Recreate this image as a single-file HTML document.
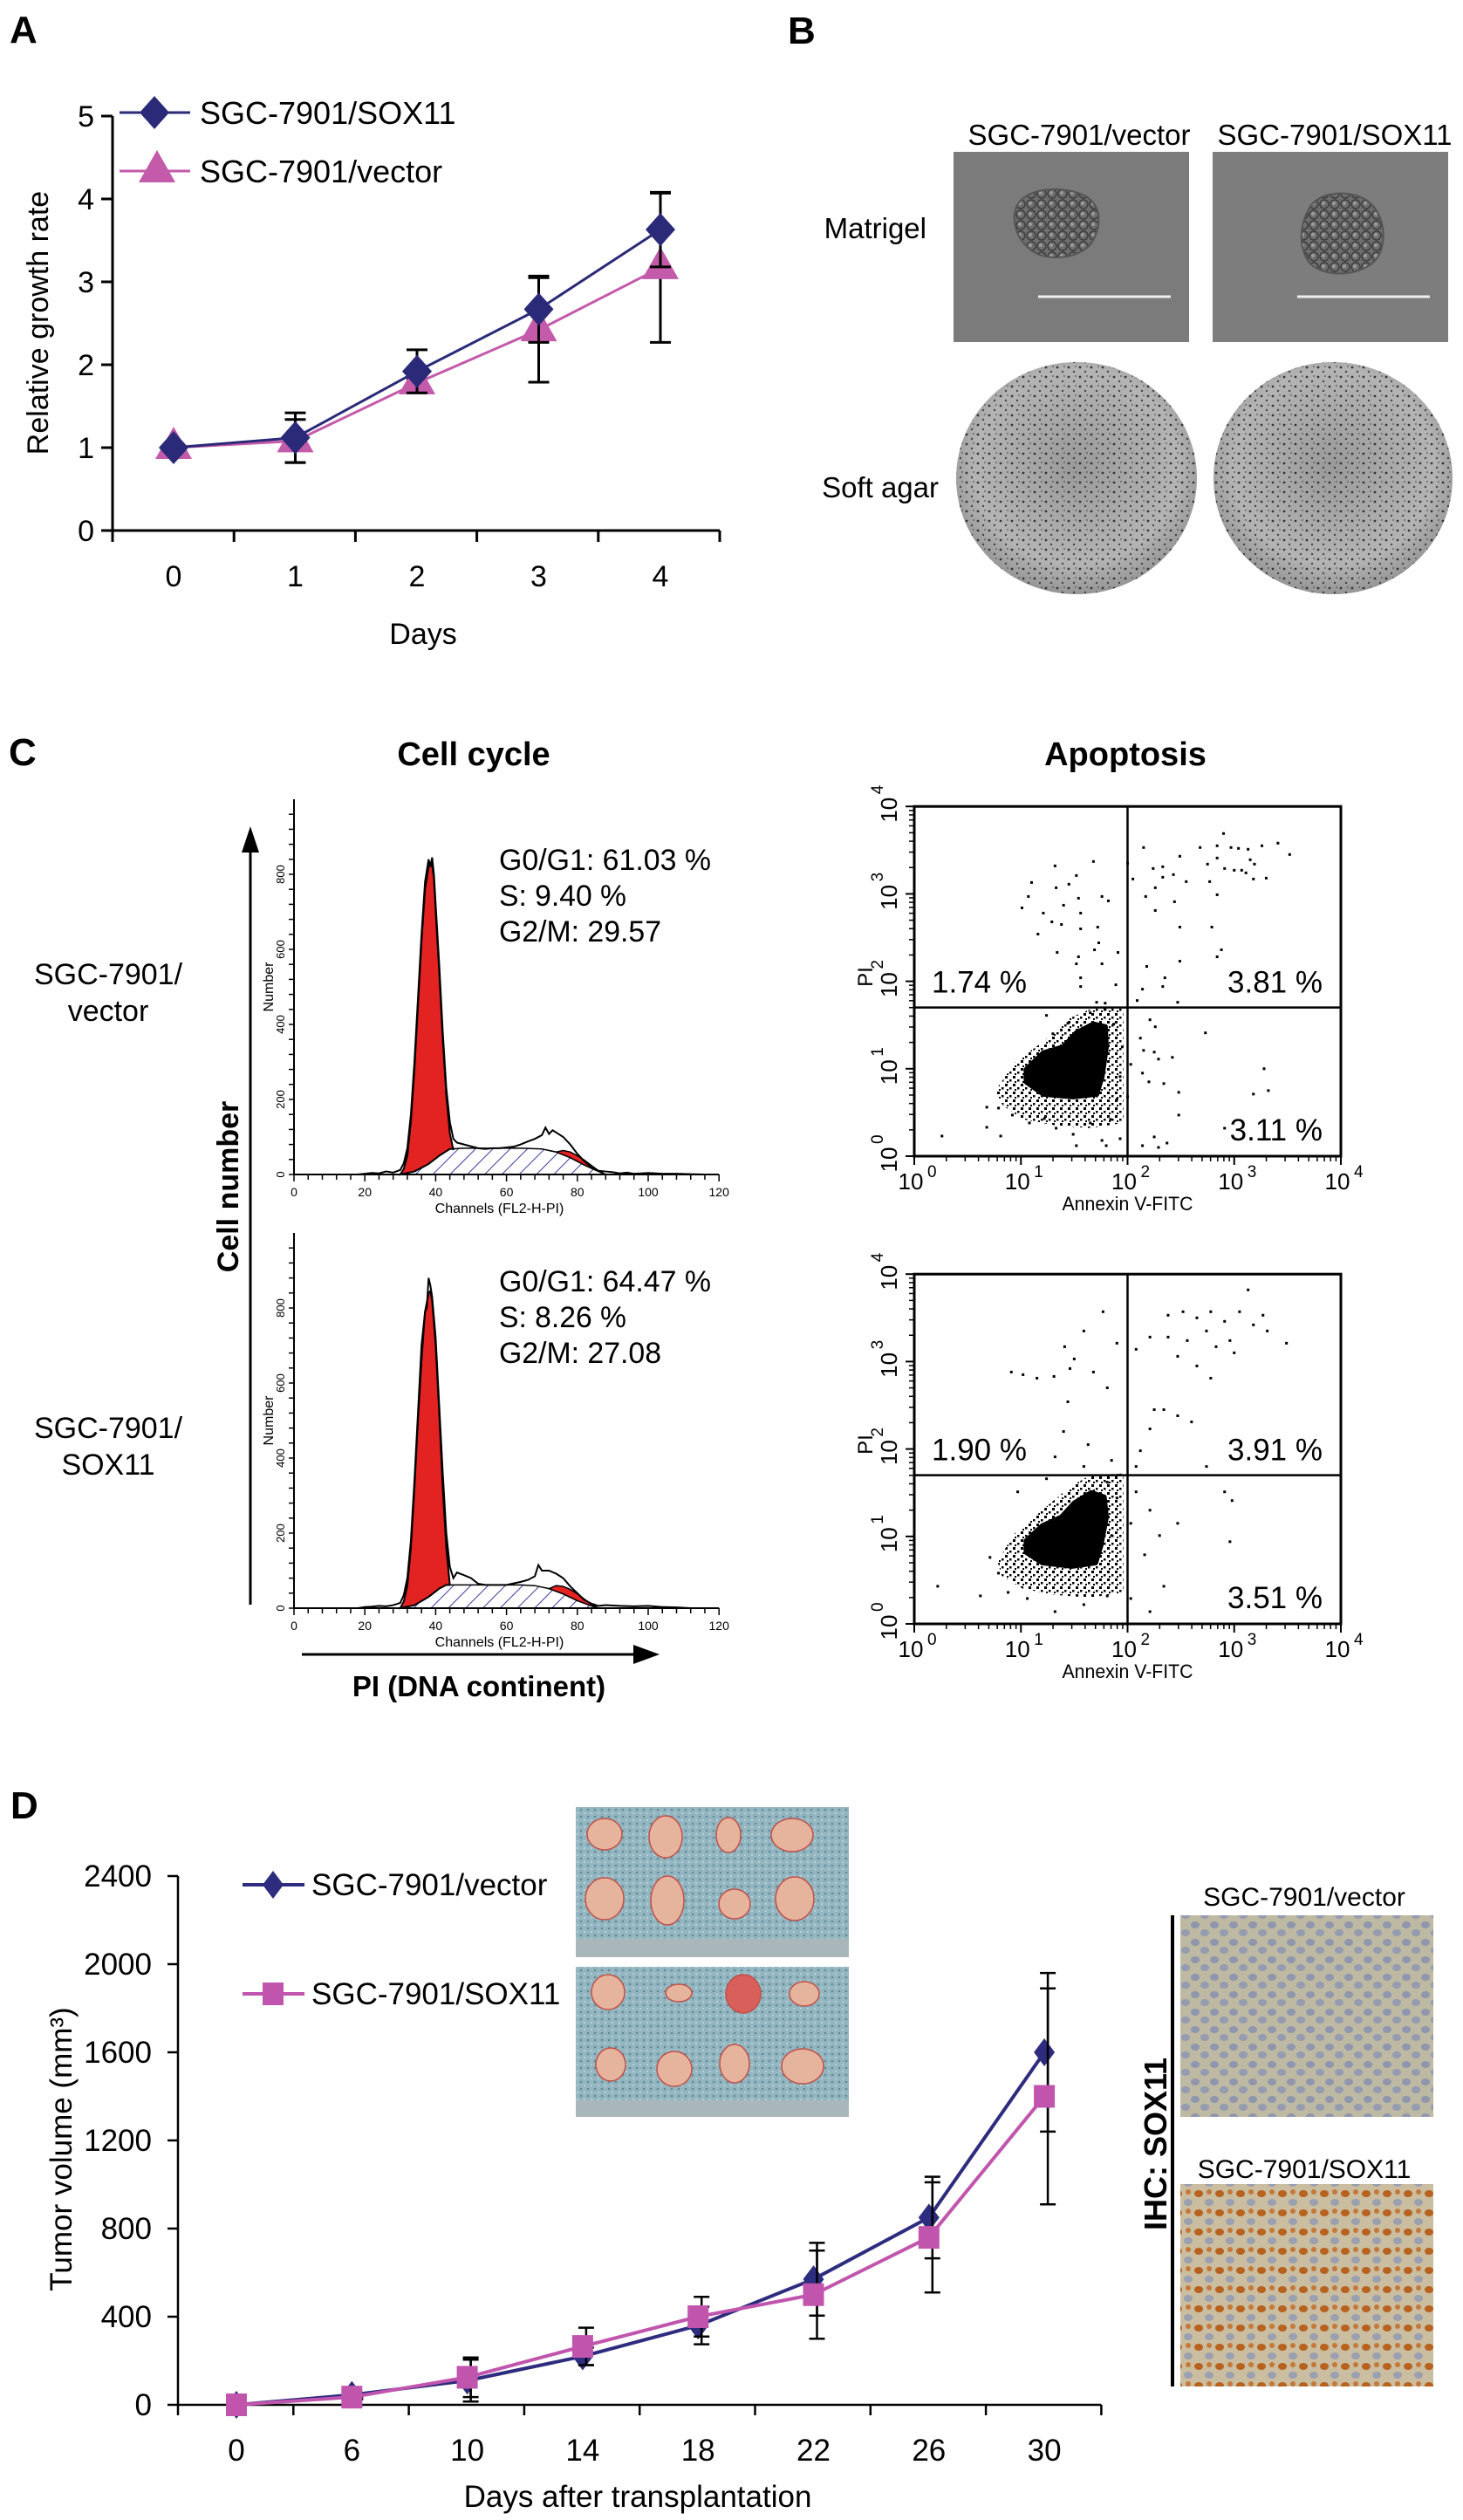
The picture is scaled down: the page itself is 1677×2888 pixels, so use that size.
<!DOCTYPE html>
<html><head><meta charset="utf-8">
<style>
html,body{margin:0;padding:0;background:#fff;}
svg{display:block;font-family:"Liberation Sans",Arial,sans-serif;}
</style></head>
<body>
<svg id="fig" xmlns="http://www.w3.org/2000/svg" width="1677" height="2888" viewBox="0 0 1677 2888">
<defs>
  <pattern id="hatch" patternUnits="userSpaceOnUse" width="14" height="14" patternTransform="rotate(45)">
    <rect width="14" height="14" fill="#fff"/>
    <line x1="0" y1="0" x2="0" y2="14" stroke="#3a3a9a" stroke-width="2"/>
  </pattern>
  <pattern id="speck" patternUnits="userSpaceOnUse" width="9" height="9">
    <rect x="0" y="0" width="3" height="3" fill="#000"/>
    <rect x="5" y="4" width="2.5" height="2.5" fill="#000"/>
    <rect x="2" y="6" width="2" height="2" fill="#000"/>
  </pattern>
  <pattern id="agar" patternUnits="userSpaceOnUse" width="13" height="11">
    <circle cx="3" cy="3" r="1.4" fill="#222"/>
    <circle cx="9" cy="8" r="1.2" fill="#333"/>
    <circle cx="11" cy="2" r="0.9" fill="#444"/>
  </pattern>
  <radialGradient id="agarG" cx="50%" cy="45%" r="60%">
    <stop offset="0" stop-color="#9a9a9a"/><stop offset="0.7" stop-color="#b4b4b4"/><stop offset="1" stop-color="#8a8a8a"/>
  </radialGradient>
  <pattern id="cloth" patternUnits="userSpaceOnUse" width="8" height="8">
    <rect width="8" height="8" fill="#93b6c0"/>
    <circle cx="2" cy="2" r="1.3" fill="#5f8a99"/>
    <circle cx="6" cy="6" r="1.1" fill="#b9d3da"/>
  </pattern>
  <pattern id="ihcV" patternUnits="userSpaceOnUse" width="22" height="20">
    <rect width="22" height="20" fill="#bdb9a2"/>
    <ellipse cx="6" cy="6" rx="5" ry="4" fill="#8f96ad"/>
    <ellipse cx="17" cy="15" rx="5" ry="4" fill="#959bb0"/>
  </pattern>
  <pattern id="ihcS" patternUnits="userSpaceOnUse" width="24" height="22">
    <rect width="24" height="22" fill="#cbbd9f"/>
    <ellipse cx="6" cy="6" rx="5" ry="4" fill="#b8621f"/>
    <ellipse cx="18" cy="16" rx="5" ry="4" fill="#9aa0b0"/>
    <ellipse cx="18" cy="4" rx="3" ry="3" fill="#c4793a"/>
  </pattern>
  <pattern id="cells" patternUnits="userSpaceOnUse" width="12" height="12">
    <rect width="12" height="12" fill="#6e6e6e"/>
    <circle cx="6" cy="6" r="5" fill="none" stroke="#3e3e3e" stroke-width="1.5"/>
    <circle cx="5" cy="5" r="2" fill="#9a9a9a"/>
  </pattern>
</defs>

<!-- Panel letters -->
<text x="11" y="49" font-size="44" font-weight="bold">A</text>
<text x="903" y="50" font-size="44" font-weight="bold">B</text>
<text x="10" y="877" font-size="44" font-weight="bold">C</text>
<text x="12" y="2084" font-size="44" font-weight="bold">D</text>

<g id="panelA"></g>

<!-- Panel B -->
<g>
  <text x="1237" y="166" font-size="33" text-anchor="middle">SGC-7901/vector</text>
  <text x="1530" y="166" font-size="33" text-anchor="middle">SGC-7901/SOX11</text>
  <text x="1062" y="273" font-size="33" text-anchor="end">Matrigel</text>
  <text x="1076" y="570" font-size="33" text-anchor="end">Soft agar</text>
  <g>
    <rect x="1093" y="174" width="270" height="218" fill="#7b7b7b"/>
    <path d="M1168,232 C1180,215 1220,212 1245,225 C1265,238 1262,262 1250,280 C1235,298 1195,300 1180,285 C1162,270 1158,245 1168,232Z" fill="url(#cells)" stroke="#555" stroke-width="2"/>
    <line x1="1190" y1="340" x2="1342" y2="340" stroke="#eee" stroke-width="3"/>
  </g>
  <g>
    <rect x="1390" y="174" width="270" height="218" fill="#7d7d7d"/>
    <path d="M1500,240 C1510,218 1550,216 1570,232 C1590,250 1590,285 1575,300 C1555,318 1515,318 1500,300 C1488,282 1490,258 1500,240Z" fill="url(#cells)" stroke="#555" stroke-width="2"/>
    <line x1="1487" y1="340" x2="1639" y2="340" stroke="#eee" stroke-width="3"/>
  </g>
  <g>
    <ellipse cx="1234" cy="548" rx="138" ry="133" fill="url(#agarG)"/>
    <ellipse cx="1234" cy="548" rx="138" ry="133" fill="url(#agar)" opacity="0.85"/>
  </g>
  <g>
    <ellipse cx="1528" cy="548" rx="137" ry="133" fill="url(#agarG)"/>
    <ellipse cx="1528" cy="548" rx="137" ry="133" fill="url(#agar)" opacity="0.85"/>
  </g>
</g>

<!-- Panel C static text -->
<text x="543" y="877" font-size="38" font-weight="bold" text-anchor="middle">Cell cycle</text>
<text x="1290" y="877" font-size="38" font-weight="bold" text-anchor="middle">Apoptosis</text>
<text x="124" y="1128" font-size="34" text-anchor="middle">SGC-7901/</text>
<text x="124" y="1170" font-size="34" text-anchor="middle">vector</text>
<text x="124" y="1648" font-size="34" text-anchor="middle">SGC-7901/</text>
<text x="124" y="1690" font-size="34" text-anchor="middle">SOX11</text>
<g>
  <line x1="287" y1="1839" x2="287" y2="975" stroke="#000" stroke-width="3"/>
  <polygon points="287,947 277,977 297,977" fill="#000"/>
</g>
<text transform="translate(273,1360) rotate(-90)" font-size="34" font-weight="bold" text-anchor="middle">Cell number</text>
<g>
  <line x1="346" y1="1896" x2="728" y2="1896" stroke="#000" stroke-width="3"/>
  <polygon points="756,1896 726,1885 726,1907" fill="#000"/>
</g>
<text x="549" y="1944" font-size="33" font-weight="bold" text-anchor="middle">PI (DNA continent)</text>

<g id="hist1"></g>
<g id="hist2"></g>
<g id="scat1"></g>
<g id="scat2"></g>

<!-- Panel D images -->
<g>
  <rect x="660" y="2071" width="313" height="172" fill="url(#cloth)"/>
  <rect x="660" y="2222" width="313" height="21" fill="#aab7ba"/>
  <g fill="#e6b39c" stroke="#c0504a" stroke-width="1.5">
    <ellipse cx="693" cy="2102" rx="20" ry="18"/><ellipse cx="763" cy="2105" rx="19" ry="24"/><ellipse cx="835" cy="2103" rx="14" ry="20"/><ellipse cx="908" cy="2103" rx="24" ry="19"/>
    <ellipse cx="693" cy="2176" rx="22" ry="24"/><ellipse cx="765" cy="2178" rx="19" ry="28"/><ellipse cx="842" cy="2182" rx="18" ry="17"/><ellipse cx="911" cy="2176" rx="22" ry="25"/>
  </g>
</g>
<g>
  <rect x="660" y="2254" width="313" height="172" fill="url(#cloth)"/>
  <rect x="660" y="2407" width="313" height="19" fill="#aab7ba"/>
  <g fill="#e6b39c" stroke="#c0504a" stroke-width="1.5">
    <ellipse cx="697" cy="2283" rx="19" ry="20"/><ellipse cx="778" cy="2284" rx="15" ry="10"/><ellipse cx="852" cy="2285" rx="20" ry="22" fill="#d9605a"/><ellipse cx="922" cy="2285" rx="17" ry="14"/>
    <ellipse cx="700" cy="2366" rx="17" ry="19"/><ellipse cx="773" cy="2371" rx="20" ry="20"/><ellipse cx="842" cy="2365" rx="17" ry="22"/><ellipse cx="920" cy="2368" rx="24" ry="20"/>
  </g>
</g>
<text x="1495" y="2184" font-size="30" text-anchor="middle">SGC-7901/vector</text>
<rect x="1353" y="2195" width="290" height="231" fill="url(#ihcV)"/>
<text x="1495" y="2496" font-size="30" text-anchor="middle">SGC-7901/SOX11</text>
<rect x="1353" y="2503" width="290" height="232" fill="url(#ihcS)"/>
<line x1="1344" y1="2195" x2="1344" y2="2735" stroke="#000" stroke-width="4"/>
<text transform="translate(1337,2457) rotate(-90)" font-size="36" font-weight="bold" text-anchor="middle">IHC: SOX11</text>

<g id="panelD"></g>
</svg>

<script>
// ===== Panel A data =====
const aDays = [0, 1, 2, 3, 4];
const aSox = [1, 1.12, 1.92, 2.67, 3.63];
const aSoxErr = [0, 0.3, 0.26, 0.4, 0.45];
const aVec = [1, 1.08, 1.78, 2.42, 3.17];
const aVecErr = [0, 0.26, 0.05, 0.63, 0.9];
const aYTicks = [0, 1, 2, 3, 4, 5];

// ===== Panel D data =====
const dDays = [0, 6, 10, 14, 18, 22, 26, 30];
const dVec = [0, 45, 110, 220, 360, 570, 850, 1600];
const dVecErr = [0, 10, 95, 40, 85, 165, 185, 360];
const dSox = [0, 35, 125, 265, 400, 500, 760, 1400];
const dSoxErr = [0, 10, 90, 85, 90, 200, 250, 490];
const dYTicks = [0, 400, 800, 1200, 1600, 2000, 2400];

// ===== Histogram data (channel, counts) =====
const h1Ch = [18,20,22,24,26,28,30,31,32,33,34,35,36,37,38,38.5,39,39.5,40,41,42,43,44,45,46,48,50,52,54,56,58,60,62,64,66,68,70,71,72,73,74,76,78,80,82,84,86,88,90,92,94,96,98,100,104,108,112,116];
const h1Ct = [0,2,4,3,8,5,12,30,70,160,300,470,640,780,840,820,845,800,720,560,380,230,140,95,85,80,75,70,68,70,70,72,74,80,88,95,105,125,108,118,112,100,80,55,35,18,10,8,6,3,5,2,3,4,2,2,1,0];
const h1G1Ch = [30,31,32,33,34,35,36,37,38,38.5,39,39.5,40,41,42,43,44,45];
const h1G1Ct = [0,15,50,140,280,450,620,760,820,830,825,790,700,540,360,210,110,65];
const h1SCh = [30,34,38,41,44,48,56,64,70,74,78,82,86,88];
const h1SCt = [0,8,28,50,68,70,70,70,68,60,45,25,8,0];
const h1G2Ch = [72,74,76,78,80,82,84,86,88];
const h1G2Ct = [64,60,64,60,50,38,24,10,0];

const h2Ch = [18,20,22,24,26,28,30,31,32,33,34,35,36,37,37.5,38,38.5,39,40,41,42,43,44,45,46,48,50,52,54,56,58,60,62,64,66,68,69,70,72,74,76,78,80,82,84,86,88,92,96,100,104,108,112];
const h2Ct = [0,3,4,6,5,8,14,35,80,180,340,520,700,790,800,880,860,830,720,540,360,200,110,80,95,88,80,65,62,62,62,62,66,70,75,85,115,100,100,92,80,58,40,22,12,6,8,6,5,6,3,2,0];
const h2G1Ch = [30,31,32,33,34,35,36,37,38,38.5,39,40,41,42,43,44];
const h2G1Ct = [0,18,60,160,320,500,660,790,840,845,820,700,520,320,160,62];
const h2SCh = [30,34,38,41,43,48,56,64,68,72,76,80,84,86];
const h2SCt = [0,8,30,52,62,62,62,62,60,52,38,20,6,0];
const h2G2Ch = [72,74,76,78,80,82,84,86];
const h2G2Ct = [52,60,58,50,38,24,10,0];

const histYTicks = [0, 200, 400, 600, 800];
const histXTicks = [0, 20, 40, 60, 80, 100, 120];

// ===== Apoptosis scatter data (log10 units) =====
const s1X = [1.32,1.68,1.10,1.52,1.33,1.45,1.07,1.54,1.76,1.82,1.01,1.40,1.21,1.56,1.29,1.38,1.72,1.56,1.16,1.73,1.69,1.34,1.91,1.54,1.76,1.52,1.56,1.56,1.89,1.71,1.79,
 2.00,2.15,2.24,2.33,2.33,2.43,2.49,2.55,2.68,2.75,2.77,2.84,2.84,2.90,2.91,2.97,3.00,3.04,3.13,3.15,3.19,3.07,3.11,3.18,3.26,3.30,3.41,3.52,2.84,2.79,2.88,2.84,2.49,2.49,2.17,2.26,2.26,2.44,2.05,2.18,2.35,2.33,2.14,2.09,2.47,
 2.21,2.26,2.12,2.15,2.25,2.29,2.42,2.03,2.14,2.20,2.34,2.48,2.73,3.28,3.32,3.18,2.48,2.25,2.29,2.37,2.14,2.00,2.91,
 0.26,0.68,0.68,0.81,0.79,0.92,1.24,1.44,1.30,1.49,1.52,1.76,1.80,1.93,1.22,1.33,1.08,1.65,1.84,1.90,1.93,1.95,1.87,1.65,1.79];
const s1Y = [3.32,3.37,3.13,3.21,3.07,3.11,2.97,2.95,2.97,2.92,2.84,2.87,2.78,2.78,2.68,2.65,2.62,2.60,2.54,2.44,2.36,2.33,2.33,2.28,2.20,2.20,2.04,1.94,1.96,1.76,1.75,
 3.35,3.53,3.29,3.31,3.19,3.22,3.43,3.14,3.53,3.34,3.14,3.55,3.41,3.69,3.29,3.53,3.27,3.52,3.51,3.39,3.34,3.27,3.24,3.17,3.55,3.18,3.58,3.45,2.99,2.62,2.36,2.28,2.62,2.23,2.97,3.07,2.81,2.91,3.17,2.17,2.04,1.94,1.91,1.78,1.76,
 1.56,1.48,1.35,1.21,1.19,1.11,1.13,1.05,0.95,0.85,0.83,0.73,1.41,1.00,0.75,0.71,0.47,0.22,0.10,0.15,0.12,0.68,0.32,
 0.23,0.56,0.33,0.23,0.55,0.47,1.61,1.52,1.40,0.25,0.12,0.18,0.12,0.20,0.43,0.32,0.38,0.38,0.42,0.65,0.91,1.25,1.51,1.64,1.68];
const s1CoreX = [1.05,1.21,1.40,1.52,1.68,1.79,1.80,1.76,1.71,1.49,1.21,1.05];
const s1CoreY = [0.99,1.18,1.25,1.41,1.51,1.48,1.25,0.91,0.71,0.68,0.71,0.85];
const s1HaloX = [0.76,0.95,1.21,1.46,1.65,1.96,1.96,1.65,1.33,1.02,0.83];
const s1HaloY = [0.75,1.08,1.31,1.58,1.68,1.71,0.38,0.32,0.35,0.42,0.58];

const s2X = [1.77,1.59,1.41,1.90,0.91,1.02,1.15,1.31,1.46,1.50,1.68,1.81,1.44,1.40,1.63,1.32,1.59,1.85,
 2.08,2.21,2.38,2.52,2.65,2.78,2.91,3.05,3.13,2.38,2.56,2.74,2.83,2.96,3.18,3.31,3.49,2.47,2.65,2.78,2.34,2.47,2.60,2.21,2.12,2.08,2.74,2.25,3.00,3.27,
 2.08,2.21,2.03,2.30,2.16,2.47,2.91,2.98,2.96,2.34,2.21,2.03,
 0.22,0.79,0.88,1.06,1.32,1.59,1.81,0.71,0.97,1.24,1.81,1.90,1.85,0.62];
const s2Y = [3.57,3.35,3.17,3.21,2.88,2.85,2.81,2.83,2.92,3.03,2.88,2.70,2.54,2.20,2.05,1.91,1.80,1.87,
 3.14,3.28,3.53,3.57,3.50,3.57,3.46,3.57,3.82,3.28,3.24,3.35,3.17,3.24,3.42,3.35,3.21,3.06,2.95,2.81,2.45,2.38,2.31,2.23,1.98,1.80,1.80,2.45,3.10,3.53,
 1.51,1.30,1.15,1.01,0.79,1.15,1.51,1.41,0.94,0.43,0.14,0.29,
 0.43,0.58,0.36,0.29,0.14,0.22,0.32,0.76,1.51,1.66,1.62,1.44,1.01,0.32];
const s2CoreX = [1.05,1.20,1.38,1.50,1.66,1.78,1.80,1.75,1.70,1.48,1.20,1.05];
const s2CoreY = [0.95,1.12,1.22,1.38,1.50,1.45,1.22,0.90,0.70,0.66,0.70,0.82];
const s2HaloX = [0.78,0.95,1.20,1.45,1.65,1.96,1.96,1.65,1.33,1.02,0.82];
const s2HaloY = [0.72,1.05,1.30,1.56,1.70,1.72,0.36,0.30,0.33,0.40,0.55];
const scatDecades = [0, 1, 2, 3, 4];

const NS = 'http://www.w3.org/2000/svg';
function mk(tag, attrs, parent) {
  const e = document.createElementNS(NS, tag);
  for (const k in attrs) e.setAttribute(k, attrs[k]);
  parent.appendChild(e);
  return e;
}
let el;

// ===== Panel A =====
(function () {
  const g = document.getElementById('panelA');
  const xA = i => 199 + i * 139.5;
  const yA = v => 608 - v * 95;
  el = mk('line', {x1:129, y1:yA(5), x2:129, y2:608, stroke:'#000', 'stroke-width':3}, g);
  
  
  el = mk('line', {x1:129, y1:608, x2:825, y2:608, stroke:'#000', 'stroke-width':3}, g);
  
  
  aYTicks.forEach(v => {
    el = mk('line', {x1:116, y1:yA(v), x2:129, y2:yA(v), stroke:'#000', 'stroke-width':3}, g);
    
    
    el = mk('text', {x:108, y:yA(v)+12, 'font-size':34, 'text-anchor':'end'}, g);
    el.textContent = v;
    
    
  });
  for (let k = 0; k <= aDays.length; k++) {
    const x = 129 + k * 139.2;
    el = mk('line', {x1:x, y1:608, x2:x, y2:621, stroke:'#000', 'stroke-width':3}, g);
    
    
  }
  aDays.forEach((d, i) => {
    el = mk('text', {x:xA(i), y:672, 'font-size':34, 'text-anchor':'middle'}, g);
    el.textContent = d;
    
    
  });
  el = mk('text', {x:485, y:738, 'font-size':34, 'text-anchor':'middle'}, g);
  el.textContent = 'Days';
  
  
  el = mk('text', {transform:'translate(55,370) rotate(-90)', 'font-size':34, 'text-anchor':'middle'}, g);
  el.textContent = 'Relative growth rate';
  
  

  function series(vals, errs, color, marker, name) {
    errs.forEach((e, i) => {
      if (!e) return;
      const x = xA(i);
      el = mk('path', {d:`M${x},${yA(vals[i]+e)}V${yA(vals[i]-e)}M${x-12},${yA(vals[i]+e)}h24M${x-12},${yA(vals[i]-e)}h24`, stroke:'#000', 'stroke-width':3, fill:'none'}, g);
      
      
    });
    el = mk('polyline', {points: vals.map((v,i)=>xA(i)+','+yA(v)).join(' '), fill:'none', stroke:color, 'stroke-width':3}, g);
    
    
    vals.forEach((v, i) => {
      const x = xA(i), y = yA(v);
      if (marker === 'diamond') el = mk('polygon', {points:`${x},${y-19} ${x+17},${y} ${x},${y+19} ${x-17},${y}`, fill:color}, g);
      else el = mk('polygon', {points:`${x},${y-24} ${x+21},${y+13} ${x-21},${y+13}`, fill:color}, g);
      
      
    });
  }
  series(aVec, aVecErr, '#c35aaa', 'tri', 'a-vector');
  series(aSox, aSoxErr, '#2b2a78', 'diamond', 'a-sox11');
  // legend
  el = mk('line', {x1:137, y1:129, x2:218, y2:129, stroke:'#2b2a78', 'stroke-width':3}, g);
  
  
  el = mk('polygon', {points:'177,110 194,129 177,148 160,129', fill:'#2b2a78'}, g);
  
  
  el = mk('text', {x:229, y:142, 'font-size':36}, g);
  el.textContent = 'SGC-7901/SOX11';
  
  
  el = mk('line', {x1:137, y1:196, x2:218, y2:196, stroke:'#c35aaa', 'stroke-width':3}, g);
  
  
  el = mk('polygon', {points:'180,172 201,209 159,209', fill:'#c35aaa'}, g);
  
  
  el = mk('text', {x:229, y:209, 'font-size':36}, g);
  el.textContent = 'SGC-7901/vector';
  
  
})();

// ===== Histograms =====
function drawHist(gid, base, ch, ct, g1c, g1v, sc, sv, g2c, g2v, stats, statY) {
  const g = document.getElementById(gid);
  const xH = c => 337 + c * 4.06;
  const yH = v => base - v * 0.43;
  const interpS = c => {
    for (let i = 0; i < sc.length - 1; i++) if (c >= sc[i] && c <= sc[i+1]) return sv[i] + (sv[i+1]-sv[i])*(c-sc[i])/(sc[i+1]-sc[i]);
    return 0;
  };
  el = mk('polygon', {points: sc.map((c,i)=>xH(c)+','+yH(sv[i])).join(' ') + ` ${xH(sc[sc.length-1])},${base} ${xH(sc[0])},${base}`, fill:'url(#hatch)', stroke:'#000', 'stroke-width':1.5}, g);
  
  
  el = mk('polygon', {points: g1c.map((c,i)=>xH(c)+','+yH(g1v[i])).join(' ') + ` ${xH(g1c[g1c.length-1])},${yH(interpS(g1c[g1c.length-1]))} ` + g1c.slice().reverse().map(c=>xH(c)+','+yH(interpS(c))).join(' '), fill:'#e32222', stroke:'#000', 'stroke-width':2}, g);
  
  
  el = mk('polygon', {points: g2c.map((c,i)=>xH(c)+','+yH(g2v[i])).join(' ') + ' ' + g2c.slice().reverse().map(c=>xH(c)+','+yH(interpS(c))).join(' '), fill:'#e32222', stroke:'#000', 'stroke-width':1.5}, g);
  
  
  el = mk('polyline', {points: ch.map((c,i)=>xH(c)+','+yH(ct[i])).join(' '), fill:'none', stroke:'#000', 'stroke-width':2}, g);
  
  
  // axes
  el = mk('line', {x1:337, y1:base-430, x2:337, y2:base, stroke:'#000', 'stroke-width':2}, g);
  
  
  el = mk('line', {x1:337, y1:base, x2:xH(120), y2:base, stroke:'#000', 'stroke-width':2}, g);
  
  
  for (let v = 0; v <= 960; v += 40) {
    el = mk('line', {x1:331, y1:yH(v), x2:337, y2:yH(v), stroke:'#000', 'stroke-width':1.5}, g);
    
    
  }
  for (let c = 0; c <= 120; c += 4) {
    el = mk('line', {x1:xH(c), y1:base, x2:xH(c), y2:base + (c % 20 === 0 ? 8 : 6), stroke:'#000', 'stroke-width':1.5}, g);
    
    
  }
  histYTicks.forEach(v => {
    el = mk('text', {transform:`translate(326,${yH(v)}) rotate(-90)`, 'font-size':13, 'text-anchor':'middle'}, g);
    el.textContent = v;
    
    
  });
  histXTicks.forEach(c => {
    el = mk('text', {x:xH(c), y:base+25, 'font-size':14, 'text-anchor':'middle'}, g);
    el.textContent = c;
    
    
  });
  el = mk('text', {x:xH(58), y:base+44, 'font-size':16, 'text-anchor':'middle'}, g);
  el.textContent = 'Channels (FL2-H-PI)';
  
  
  el = mk('text', {transform:`translate(313,${yH(500)}) rotate(-90)`, 'font-size':16, 'text-anchor':'middle'}, g);
  el.textContent = 'Number';
  
  
  stats.forEach((s, i) => {
    el = mk('text', {x:572, y:statY[i], 'font-size':34, textLength: s.w, lengthAdjust:'spacingAndGlyphs'}, g);
    el.textContent = s.t;
    
    
  });
}
drawHist('hist1', 1346, h1Ch, h1Ct, h1G1Ch, h1G1Ct, h1SCh, h1SCt, h1G2Ch, h1G2Ct,
  [{t:'G0/G1: 61.03 %', w:243},{t:'S: 9.40 %', w:146},{t:'G2/M: 29.57', w:186}], [997,1038,1079]);
drawHist('hist2', 1843, h2Ch, h2Ct, h2G1Ch, h2G1Ct, h2SCh, h2SCt, h2G2Ch, h2G2Ct,
  [{t:'G0/G1: 64.47 %', w:243},{t:'S: 8.26 %', w:146},{t:'G2/M: 27.08', w:186}], [1480,1521,1562]);

// ===== Scatter plots =====
function drawScatter(gid, bottom, xs, ys, coreX, coreY, haloX, haloY, pcts) {
  const g = document.getElementById(gid);
  const xS = l => 1048 + l * 122.25;
  const yS = l => bottom - l * 100.2;
  el = mk('polygon', {points: haloX.map((x,i)=>xS(x)+','+yS(haloY[i])).join(' '), fill:'url(#speck)'}, g);
  
  
  el = mk('polygon', {points: coreX.map((x,i)=>xS(x)+','+yS(coreY[i])).join(' '), fill:'#000', 'stroke-linejoin':'round', stroke:'#000', 'stroke-width':6}, g);
  
  
  xs.forEach((x, i) => {
    el = mk('rect', {x:xS(x)-1.5, y:yS(ys[i])-1.5, width:3, height:3, fill:'#000'}, g);
    
    
  });
  el = mk('rect', {x:xS(0), y:yS(4), width:xS(4)-xS(0), height:yS(0)-yS(4), fill:'none', stroke:'#000', 'stroke-width':3}, g);
  
  
  el = mk('line', {x1:xS(2), y1:yS(4), x2:xS(2), y2:yS(0), stroke:'#000', 'stroke-width':2.5}, g);
  
  
  el = mk('line', {x1:xS(0), y1:yS(1.7), x2:xS(4), y2:yS(1.7), stroke:'#000', 'stroke-width':2.5}, g);
  
  
  for (let d = 0; d < 4; d++) {
    for (let k = 2; k <= 9; k++) {
      const l = d + Math.log10(k);
      el = mk('line', {x1:xS(l), y1:yS(0), x2:xS(l), y2:yS(0)+6, stroke:'#000', 'stroke-width':1.5}, g);
      
      
      el = mk('line', {x1:xS(0)-6, y1:yS(l), x2:xS(0), y2:yS(l), stroke:'#000', 'stroke-width':1.5}, g);
      
      
    }
  }
  scatDecades.forEach(d => {
    el = mk('line', {x1:xS(d), y1:yS(0), x2:xS(d), y2:yS(0)+10, stroke:'#000', 'stroke-width':2}, g);
    
    
    el = mk('line', {x1:xS(0)-10, y1:yS(d), x2:xS(0), y2:yS(d), stroke:'#000', 'stroke-width':2}, g);
    
    
    el = mk('text', {x:xS(d)-4, y:yS(0)+38, 'font-size':26, 'text-anchor':'middle'}, g);
    el.textContent = '10';
    
    
    el = mk('text', {x:xS(d)+15, y:yS(0)+24, 'font-size':19}, g);
    el.textContent = d;
    
    
    el = mk('text', {transform:`translate(1028,${yS(d)+4}) rotate(-90)`, 'font-size':26, 'text-anchor':'middle'}, g);
    el.textContent = '10';
    
    
    el = mk('text', {transform:`translate(1012,${yS(d)-14}) rotate(-90)`, 'font-size':19}, g);
    el.textContent = d;
    
    
  });
  el = mk('text', {x:xS(2), y:yS(0)+62, 'font-size':22, 'text-anchor':'middle', textLength:150, lengthAdjust:'spacingAndGlyphs'}, g);
  el.textContent = 'Annexin V-FITC';
  
  
  el = mk('text', {transform:`translate(1000,${yS(2.05)}) rotate(-90)`, 'font-size':24, 'text-anchor':'middle'}, g);
  el.textContent = 'PI';
  
  
  el = mk('text', {x:1068, y:yS(1.87), 'font-size':35}, g);
  el.textContent = pcts[0];
  
  
  el = mk('text', {x:1516, y:yS(1.87), 'font-size':35, 'text-anchor':'end'}, g);
  el.textContent = pcts[1];
  
  
  el = mk('text', {x:1516, y:yS(0.18), 'font-size':35, 'text-anchor':'end'}, g);
  el.textContent = pcts[2];
  
  
}
drawScatter('scat1', 1325, s1X, s1Y, s1CoreX, s1CoreY, s1HaloX, s1HaloY, ['1.74 %','3.81 %','3.11 %']);
drawScatter('scat2', 1861, s2X, s2Y, s2CoreX, s2CoreY, s2HaloX, s2HaloY, ['1.90 %','3.91 %','3.51 %']);

// ===== Panel D =====
(function () {
  const g = document.getElementById('panelD');
  const xD = i => 271 + i * 132.3;
  const yD = v => 2756 - v * 606 / 2400;
  el = mk('line', {x1:204, y1:yD(2400), x2:204, y2:2756, stroke:'#000', 'stroke-width':2.5}, g);
  
  
  el = mk('line', {x1:204, y1:2756, x2:204 + 8*132.3, y2:2756, stroke:'#000', 'stroke-width':2.5}, g);
  
  
  dYTicks.forEach(v => {
    el = mk('line', {x1:192, y1:yD(v), x2:204, y2:yD(v), stroke:'#000', 'stroke-width':2.5}, g);
    
    
    el = mk('text', {x:174, y:yD(v)+12, 'font-size':35, 'text-anchor':'end'}, g);
    el.textContent = v;
    
    
  });
  for (let k = 0; k <= dDays.length; k++) {
    el = mk('line', {x1:204 + k*132.3, y1:2756, x2:204 + k*132.3, y2:2768, stroke:'#000', 'stroke-width':2.5}, g);
    
    
  }
  dDays.forEach((d, i) => {
    el = mk('text', {x:xD(i), y:2820, 'font-size':35, 'text-anchor':'middle'}, g);
    el.textContent = d;
    
    
  });
  el = mk('text', {x:731, y:2873, 'font-size':35, 'text-anchor':'middle'}, g);
  el.textContent = 'Days after transplantation';
  
  
  el = mk('text', {transform:'translate(82,2463) rotate(-90)', 'font-size':35, 'text-anchor':'middle'}, g);
  el.textContent = 'Tumor volume (mm³)';
  
  

  function series(vals, errs, color, marker, name) {
    errs.forEach((e, i) => {
      if (!e) return;
      const x = xD(i) + 4;
      el = mk('path', {d:`M${x},${yD(vals[i]+e)}V${yD(vals[i]-e)}M${x-9},${yD(vals[i]+e)}h18M${x-9},${yD(vals[i]-e)}h18`, stroke:'#000', 'stroke-width':2.5, fill:'none'}, g);
      
      
    });
    el = mk('polyline', {points: vals.map((v,i)=>xD(i)+','+yD(v)).join(' '), fill:'none', stroke:color, 'stroke-width':4}, g);
    
    
    vals.forEach((v, i) => {
      const x = xD(i), y = yD(v);
      if (marker === 'diamond') el = mk('polygon', {points:`${x},${y-16} ${x+12},${y} ${x},${y+16} ${x-12},${y}`, fill:color}, g);
      else el = mk('rect', {x:x-12, y:y-13, width:24, height:26, fill:color}, g);
      
      
    });
  }
  series(dVec, dVecErr, '#2e2c7e', 'diamond', 'd-vector');
  series(dSox, dSoxErr, '#c155ae', 'square', 'd-sox11');
  el = mk('line', {x1:278, y1:2160, x2:349, y2:2160, stroke:'#2e2c7e', 'stroke-width':4}, g);
  
  
  el = mk('polygon', {points:'313,2144 325,2160 313,2176 301,2160', fill:'#2e2c7e'}, g);
  
  
  el = mk('text', {x:357, y:2172, 'font-size':35}, g);
  el.textContent = 'SGC-7901/vector';
  
  
  el = mk('line', {x1:278, y1:2285, x2:349, y2:2285, stroke:'#c155ae', 'stroke-width':4}, g);
  
  
  el = mk('rect', {x:301, y:2272, width:24, height:26, fill:'#c155ae'}, g);
  
  
  el = mk('text', {x:357, y:2297, 'font-size':35}, g);
  el.textContent = 'SGC-7901/SOX11';
  
  
})();
</script>
</body></html>
